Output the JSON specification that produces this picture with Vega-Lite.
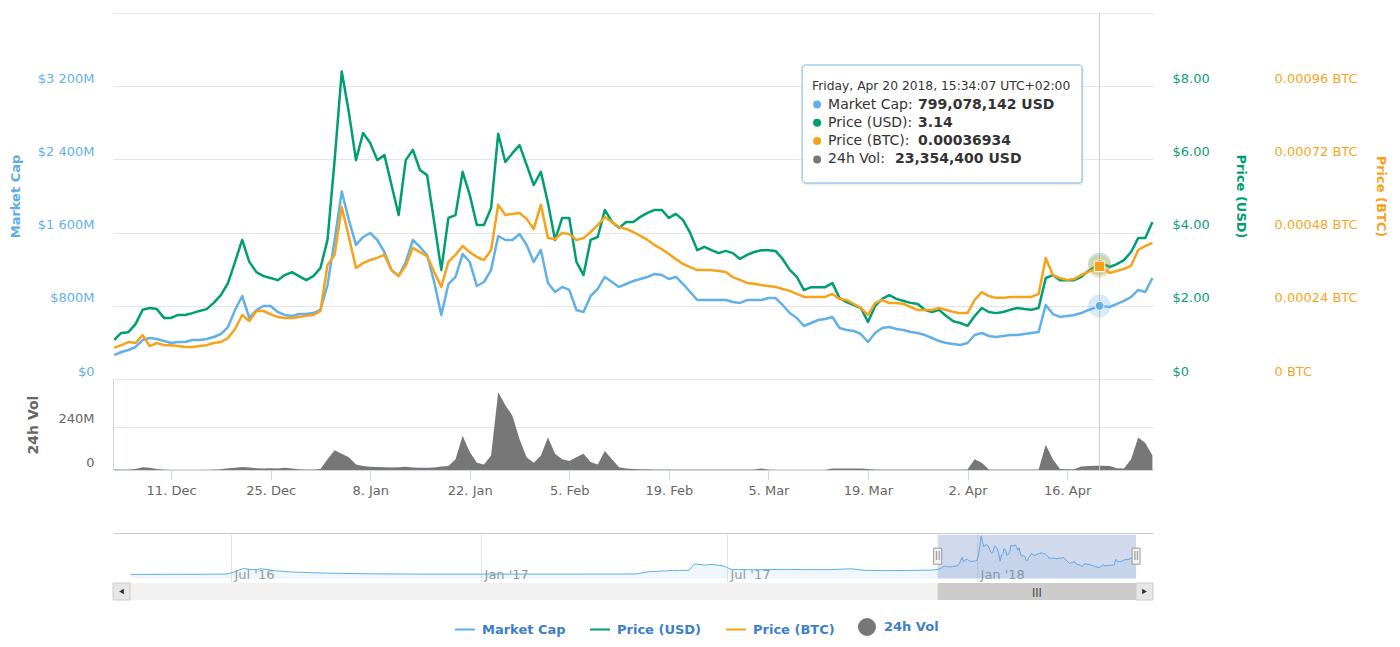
{
"$schema": "https://vega.github.io/schema/vega-lite/v6.json",
"width": 1040,
"height": 587,
"autosize": {"type": "none"},
"padding": {"left": 113, "top": 13, "right": 247, "bottom": 47},
"background": "white",
"config": {
  "font": "DejaVu Sans",
  "view": {"stroke": null},
  "axis": {"labelFont": "DejaVu Sans", "titleFont": "DejaVu Sans"},
  "legend": {"labelFont": "DejaVu Sans"},
  "text": {"font": "DejaVu Sans"}
},
"datasets": {
  "main": [
{"date":"2017-12-03","mc":262,"usd":1.07,"btc":0.000102,"vol":3},
{"date":"2017-12-04","mc":295,"usd":1.26,"btc":0.000111,"vol":3},
{"date":"2017-12-05","mc":317,"usd":1.28,"btc":0.000121,"vol":3},
{"date":"2017-12-06","mc":350,"usd":1.50,"btc":0.000118,"vol":5},
{"date":"2017-12-07","mc":426,"usd":1.89,"btc":0.000144,"vol":15},
{"date":"2017-12-08","mc":448,"usd":1.94,"btc":0.000108,"vol":12},
{"date":"2017-12-09","mc":437,"usd":1.91,"btc":0.000118,"vol":6},
{"date":"2017-12-10","mc":415,"usd":1.67,"btc":0.000111,"vol":3},
{"date":"2017-12-11","mc":393,"usd":1.67,"btc":0.000111,"vol":2},
{"date":"2017-12-12","mc":404,"usd":1.75,"btc":0.000108,"vol":2},
{"date":"2017-12-13","mc":404,"usd":1.75,"btc":0.000105,"vol":2},
{"date":"2017-12-14","mc":426,"usd":1.80,"btc":0.000105,"vol":2},
{"date":"2017-12-15","mc":426,"usd":1.86,"btc":0.000108,"vol":2},
{"date":"2017-12-16","mc":437,"usd":1.91,"btc":0.000111,"vol":2},
{"date":"2017-12-17","mc":459,"usd":2.08,"btc":0.000118,"vol":3},
{"date":"2017-12-18","mc":492,"usd":2.29,"btc":0.000121,"vol":4},
{"date":"2017-12-19","mc":568,"usd":2.62,"btc":0.000134,"vol":10},
{"date":"2017-12-20","mc":754,"usd":3.20,"btc":0.000164,"vol":12},
{"date":"2017-12-21","mc":907,"usd":3.80,"btc":0.000210,"vol":16},
{"date":"2017-12-22","mc":667,"usd":3.20,"btc":0.000190,"vol":14},
{"date":"2017-12-23","mc":754,"usd":2.92,"btc":0.000223,"vol":10},
{"date":"2017-12-24","mc":798,"usd":2.81,"btc":0.000223,"vol":9},
{"date":"2017-12-25","mc":798,"usd":2.76,"btc":0.000213,"vol":10},
{"date":"2017-12-26","mc":732,"usd":2.70,"btc":0.000203,"vol":9},
{"date":"2017-12-27","mc":700,"usd":2.84,"btc":0.000200,"vol":12},
{"date":"2017-12-28","mc":689,"usd":2.92,"btc":0.000200,"vol":8},
{"date":"2017-12-29","mc":710,"usd":2.81,"btc":0.000203,"vol":4},
{"date":"2017-12-30","mc":710,"usd":2.70,"btc":0.000207,"vol":3},
{"date":"2017-12-31","mc":721,"usd":2.81,"btc":0.000210,"vol":3},
{"date":"2018-01-01","mc":754,"usd":3.03,"btc":0.000223,"vol":6},
{"date":"2018-01-02","mc":1027,"usd":3.80,"btc":0.000374,"vol":60},
{"date":"2018-01-03","mc":1519,"usd":5.98,"btc":0.000407,"vol":110},
{"date":"2018-01-04","mc":2050,"usd":8.40,"btc":0.000564,"vol":90},
{"date":"2018-01-05","mc":1738,"usd":7.29,"btc":0.000466,"vol":70},
{"date":"2018-01-06","mc":1465,"usd":5.98,"btc":0.000364,"vol":30},
{"date":"2018-01-07","mc":1552,"usd":6.72,"btc":0.000380,"vol":22},
{"date":"2018-01-08","mc":1596,"usd":6.45,"btc":0.000390,"vol":18},
{"date":"2018-01-09","mc":1519,"usd":5.98,"btc":0.000397,"vol":16},
{"date":"2018-01-10","mc":1388,"usd":6.12,"btc":0.000407,"vol":15},
{"date":"2018-01-11","mc":1191,"usd":5.30,"btc":0.000357,"vol":14},
{"date":"2018-01-12","mc":1126,"usd":4.48,"btc":0.000338,"vol":15},
{"date":"2018-01-13","mc":1279,"usd":5.98,"btc":0.000371,"vol":18},
{"date":"2018-01-14","mc":1519,"usd":6.26,"btc":0.000430,"vol":14},
{"date":"2018-01-15","mc":1443,"usd":5.71,"btc":0.000416,"vol":12},
{"date":"2018-01-16","mc":1355,"usd":5.57,"btc":0.000403,"vol":12},
{"date":"2018-01-17","mc":1060,"usd":4.29,"btc":0.000351,"vol":14},
{"date":"2018-01-18","mc":700,"usd":2.98,"btc":0.000302,"vol":20},
{"date":"2018-01-19","mc":1038,"usd":4.40,"btc":0.000384,"vol":22},
{"date":"2018-01-20","mc":1115,"usd":4.48,"btc":0.000407,"vol":60},
{"date":"2018-01-21","mc":1366,"usd":5.66,"btc":0.000436,"vol":190},
{"date":"2018-01-22","mc":1279,"usd":5.03,"btc":0.000416,"vol":100},
{"date":"2018-01-23","mc":1016,"usd":4.21,"btc":0.000400,"vol":40},
{"date":"2018-01-24","mc":1060,"usd":4.21,"btc":0.000390,"vol":30},
{"date":"2018-01-25","mc":1191,"usd":4.67,"btc":0.000423,"vol":80},
{"date":"2018-01-26","mc":1563,"usd":6.70,"btc":0.000571,"vol":430},
{"date":"2018-01-27","mc":1519,"usd":5.93,"btc":0.000538,"vol":360},
{"date":"2018-01-28","mc":1519,"usd":6.17,"btc":0.000541,"vol":300},
{"date":"2018-01-29","mc":1585,"usd":6.39,"btc":0.000544,"vol":170},
{"date":"2018-01-30","mc":1465,"usd":5.85,"btc":0.000525,"vol":70},
{"date":"2018-01-31","mc":1279,"usd":5.30,"btc":0.000492,"vol":40},
{"date":"2018-02-01","mc":1410,"usd":5.66,"btc":0.000571,"vol":80},
{"date":"2018-02-02","mc":1049,"usd":4.81,"btc":0.000462,"vol":180},
{"date":"2018-02-03","mc":951,"usd":3.80,"btc":0.000459,"vol":90},
{"date":"2018-02-04","mc":1006,"usd":4.40,"btc":0.000479,"vol":60},
{"date":"2018-02-05","mc":973,"usd":4.40,"btc":0.000475,"vol":50},
{"date":"2018-02-06","mc":754,"usd":3.20,"btc":0.000456,"vol":70},
{"date":"2018-02-07","mc":732,"usd":2.84,"btc":0.000462,"vol":90},
{"date":"2018-02-08","mc":907,"usd":3.80,"btc":0.000482,"vol":45},
{"date":"2018-02-09","mc":984,"usd":3.88,"btc":0.000505,"vol":30},
{"date":"2018-02-10","mc":1115,"usd":4.62,"btc":0.000531,"vol":105},
{"date":"2018-02-11","mc":1060,"usd":4.29,"btc":0.000515,"vol":60},
{"date":"2018-02-12","mc":1006,"usd":4.13,"btc":0.000498,"vol":15},
{"date":"2018-02-13","mc":1038,"usd":4.29,"btc":0.000492,"vol":8},
{"date":"2018-02-14","mc":1071,"usd":4.29,"btc":0.000482,"vol":5},
{"date":"2018-02-15","mc":1093,"usd":4.43,"btc":0.000469,"vol":4},
{"date":"2018-02-16","mc":1115,"usd":4.54,"btc":0.000456,"vol":4},
{"date":"2018-02-17","mc":1148,"usd":4.62,"btc":0.000439,"vol":3},
{"date":"2018-02-18","mc":1137,"usd":4.62,"btc":0.000426,"vol":3},
{"date":"2018-02-19","mc":1093,"usd":4.40,"btc":0.000410,"vol":3},
{"date":"2018-02-20","mc":1115,"usd":4.51,"btc":0.000393,"vol":3},
{"date":"2018-02-21","mc":1038,"usd":4.34,"btc":0.000377,"vol":3},
{"date":"2018-02-22","mc":951,"usd":3.99,"btc":0.000367,"vol":3},
{"date":"2018-02-23","mc":863,"usd":3.52,"btc":0.000357,"vol":3},
{"date":"2018-02-24","mc":863,"usd":3.61,"btc":0.000357,"vol":3},
{"date":"2018-02-25","mc":863,"usd":3.52,"btc":0.000357,"vol":3},
{"date":"2018-02-26","mc":863,"usd":3.44,"btc":0.000354,"vol":3},
{"date":"2018-02-27","mc":863,"usd":3.50,"btc":0.000351,"vol":3},
{"date":"2018-02-28","mc":842,"usd":3.44,"btc":0.000334,"vol":3},
{"date":"2018-03-01","mc":831,"usd":3.28,"btc":0.000325,"vol":3},
{"date":"2018-03-02","mc":863,"usd":3.39,"btc":0.000315,"vol":3},
{"date":"2018-03-03","mc":863,"usd":3.47,"btc":0.000312,"vol":3},
{"date":"2018-03-04","mc":863,"usd":3.52,"btc":0.000308,"vol":8},
{"date":"2018-03-05","mc":885,"usd":3.52,"btc":0.000305,"vol":3},
{"date":"2018-03-06","mc":885,"usd":3.50,"btc":0.000302,"vol":2},
{"date":"2018-03-07","mc":809,"usd":3.28,"btc":0.000295,"vol":2},
{"date":"2018-03-08","mc":721,"usd":2.98,"btc":0.000289,"vol":2},
{"date":"2018-03-09","mc":667,"usd":2.79,"btc":0.000279,"vol":2},
{"date":"2018-03-10","mc":579,"usd":2.43,"btc":0.000269,"vol":2},
{"date":"2018-03-11","mc":612,"usd":2.51,"btc":0.000269,"vol":2},
{"date":"2018-03-12","mc":645,"usd":2.51,"btc":0.000269,"vol":2},
{"date":"2018-03-13","mc":656,"usd":2.51,"btc":0.000269,"vol":2},
{"date":"2018-03-14","mc":678,"usd":2.62,"btc":0.000279,"vol":8},
{"date":"2018-03-15","mc":557,"usd":2.21,"btc":0.000262,"vol":8},
{"date":"2018-03-16","mc":536,"usd":2.10,"btc":0.000259,"vol":8},
{"date":"2018-03-17","mc":525,"usd":2.02,"btc":0.000246,"vol":8},
{"date":"2018-03-18","mc":492,"usd":1.94,"btc":0.000233,"vol":8},
{"date":"2018-03-19","mc":404,"usd":1.56,"btc":0.000210,"vol":5},
{"date":"2018-03-20","mc":503,"usd":1.99,"btc":0.000249,"vol":3},
{"date":"2018-03-21","mc":557,"usd":2.19,"btc":0.000259,"vol":3},
{"date":"2018-03-22","mc":568,"usd":2.29,"btc":0.000249,"vol":3},
{"date":"2018-03-23","mc":547,"usd":2.19,"btc":0.000249,"vol":3},
{"date":"2018-03-24","mc":536,"usd":2.13,"btc":0.000246,"vol":3},
{"date":"2018-03-25","mc":514,"usd":2.08,"btc":0.000236,"vol":3},
{"date":"2018-03-26","mc":503,"usd":2.05,"btc":0.000226,"vol":3},
{"date":"2018-03-27","mc":481,"usd":1.89,"btc":0.000226,"vol":3},
{"date":"2018-03-28","mc":448,"usd":1.83,"btc":0.000226,"vol":3},
{"date":"2018-03-29","mc":415,"usd":1.89,"btc":0.000233,"vol":3},
{"date":"2018-03-30","mc":393,"usd":1.72,"btc":0.000226,"vol":3},
{"date":"2018-03-31","mc":383,"usd":1.58,"btc":0.000220,"vol":3},
{"date":"2018-04-01","mc":372,"usd":1.53,"btc":0.000216,"vol":3},
{"date":"2018-04-02","mc":393,"usd":1.45,"btc":0.000216,"vol":3},
{"date":"2018-04-03","mc":481,"usd":1.72,"btc":0.000259,"vol":60},
{"date":"2018-04-04","mc":503,"usd":1.94,"btc":0.000285,"vol":40},
{"date":"2018-04-05","mc":470,"usd":1.83,"btc":0.000272,"vol":3},
{"date":"2018-04-06","mc":459,"usd":1.80,"btc":0.000266,"vol":3},
{"date":"2018-04-07","mc":470,"usd":1.83,"btc":0.000266,"vol":3},
{"date":"2018-04-08","mc":481,"usd":1.89,"btc":0.000269,"vol":3},
{"date":"2018-04-09","mc":481,"usd":1.94,"btc":0.000269,"vol":3},
{"date":"2018-04-10","mc":492,"usd":1.91,"btc":0.000269,"vol":3},
{"date":"2018-04-11","mc":503,"usd":1.89,"btc":0.000269,"vol":3},
{"date":"2018-04-12","mc":514,"usd":1.94,"btc":0.000279,"vol":3},
{"date":"2018-04-13","mc":809,"usd":2.76,"btc":0.000397,"vol":140},
{"date":"2018-04-14","mc":710,"usd":2.84,"btc":0.000341,"vol":60},
{"date":"2018-04-15","mc":678,"usd":2.70,"btc":0.000331,"vol":5},
{"date":"2018-04-16","mc":689,"usd":2.70,"btc":0.000325,"vol":4},
{"date":"2018-04-17","mc":700,"usd":2.70,"btc":0.000328,"vol":4},
{"date":"2018-04-18","mc":721,"usd":2.79,"btc":0.000341,"vol":20},
{"date":"2018-04-19","mc":754,"usd":2.95,"btc":0.000351,"vol":22},
{"date":"2018-04-20","mc":780,"usd":3.07,"btc":0.000360,"vol":23},
{"date":"2018-04-20T13:34:07Z","mc":799.078142,"usd":3.14,"btc":0.00036934,"vol":23.3544},
{"date":"2018-04-21","mc":795,"usd":3.15,"btc":0.000364,"vol":23},
{"date":"2018-04-22","mc":787,"usd":3.06,"btc":0.000348,"vol":22},
{"date":"2018-04-23","mc":820,"usd":3.14,"btc":0.000354,"vol":10},
{"date":"2018-04-24","mc":853,"usd":3.25,"btc":0.000361,"vol":8},
{"date":"2018-04-25","mc":896,"usd":3.47,"btc":0.000371,"vol":60},
{"date":"2018-04-26","mc":973,"usd":3.85,"btc":0.000423,"vol":180},
{"date":"2018-04-27","mc":951,"usd":3.85,"btc":0.000436,"vol":150},
{"date":"2018-04-28","mc":1104,"usd":4.29,"btc":0.000446,"vol":80}
  ],
  "hover": [{"date":"2018-04-20T13:34:07Z","mc":799.078142,"usd":3.14,"btc":0.00036934,"vol":23.3544}],
  "navold": [
{"date":"2016-04-18","mc":3},{"date":"2016-05-01","mc":5},{"date":"2016-05-20","mc":8},{"date":"2016-06-10","mc":10},
{"date":"2016-06-28","mc":25},{"date":"2016-07-04","mc":150},{"date":"2016-07-10","mc":320},{"date":"2016-07-17","mc":250},
{"date":"2016-07-24","mc":300},{"date":"2016-08-02","mc":200},{"date":"2016-08-15","mc":130},{"date":"2016-09-10","mc":70},
{"date":"2016-10-10","mc":35},{"date":"2016-11-15","mc":20},{"date":"2017-01-01","mc":18},{"date":"2017-02-15","mc":20},
{"date":"2017-03-20","mc":22},{"date":"2017-04-25","mc":25},{"date":"2017-05-05","mc":150},{"date":"2017-05-22","mc":210},
{"date":"2017-06-03","mc":220},{"date":"2017-06-07","mc":560},{"date":"2017-06-14","mc":500},{"date":"2017-06-21","mc":530},
{"date":"2017-06-29","mc":440},{"date":"2017-07-04","mc":270},{"date":"2017-07-20","mc":250},{"date":"2017-08-10","mc":270},
{"date":"2017-08-25","mc":260},{"date":"2017-09-14","mc":255},{"date":"2017-10-01","mc":300},{"date":"2017-10-10","mc":220},
{"date":"2017-10-25","mc":205},{"date":"2017-11-10","mc":210},{"date":"2017-11-28","mc":230},{"date":"2017-12-03","mc":262}
  ],
  "tip": [
    {"series":"Market Cap","label":"Market Cap:","value":"799,078,142 USD"},
    {"series":"Price (USD)","label":"Price (USD):","value":"3.14"},
    {"series":"Price (BTC)","label":"Price (BTC):","value":"0.00036934"},
    {"series":"24h Vol","label":"24h Vol:","value":"23,354,400 USD"}
  ],
  "one": [{}]
},
"layer": [
  {
    "data": {"name": "main"},
    "mark": {"type": "area", "interpolate": "linear"},
    "encoding": {
      "x": {"field": "date", "type": "temporal",
        "scale": {"type": "utc", "domain": [{"year":2017,"month":12,"date":2,"hours":20,"utc":true},{"year":2018,"month":4,"date":28,"hours":2,"utc":true}]},
        "axis": {"orient": "bottom", "offset": -130, "title": null,
          "values": [{"year":2017,"month":12,"date":11,"utc":true},{"year":2017,"month":12,"date":25,"utc":true},{"year":2018,"month":1,"date":8,"utc":true},{"year":2018,"month":1,"date":22,"utc":true},{"year":2018,"month":2,"date":5,"utc":true},{"year":2018,"month":2,"date":19,"utc":true},{"year":2018,"month":3,"date":5,"utc":true},{"year":2018,"month":3,"date":19,"utc":true},{"year":2018,"month":4,"date":2,"utc":true},{"year":2018,"month":4,"date":16,"utc":true}],
          "labelExpr": "utcFormat(datum.value, '%-d. %b')", "grid": false,
          "domain": true, "domainColor": "#ccd6eb", "ticks": true, "tickColor": "#ccd6eb", "tickSize": 10,
          "labelColor": "#666666", "labelFontSize": 13, "labelPadding": 4, "labelFlush": false, "labelOverlap": false}},
      "y": {"field": "vol", "type": "quantitative", "scale": {"domain": [0, 504], "range": [457, 366]},
        "axis": {"orient": "left", "values": [0, 240], "labelExpr": "datum.value == 0 ? '0' : datum.value + 'M'",
          "grid": true, "gridColor": "#e6e6e6", "domain": true, "domainColor": "#ccd6eb", "ticks": false,
          "labelPadding": 19, "labelOffset": -8, "labelColor": "#666666", "labelFontSize": 13,
          "title": "24h Vol", "titleColor": "#666666", "titleFontWeight": "bold", "titleFontSize": 14,
          "titleX": -80, "titleBaseline": "middle", "titleAngle": -90}},
      "color": {"datum": "24h Vol", "type": "nominal",
        "scale": {"domain": ["Market Cap","Price (USD)","Price (BTC)","24h Vol"], "range": ["#62b0e8","#009e73","#f7a21b","#777777"]},
        "legend": {"orient": "none", "legendX": 341, "legendY": 603, "direction": "horizontal", "title": null,
          "labelFontSize": 13, "labelFontWeight": "bold", "labelColor": "#3d7fc9",
          "symbolType": "stroke", "symbolSize": 400, "symbolStrokeWidth": 2, "columnPadding": 20, "labelOffset": 6, "padding": 0,
          "encode": {"symbols": {"update": {
            "shape": {"signal": "datum.value === '24h Vol' ? 'circle' : 'stroke'"},
            "size": {"signal": "datum.value === '24h Vol' ? 256 : 400"},
            "fill": {"signal": "datum.value === '24h Vol' ? '#777777' : 'transparent'"},
            "stroke": {"signal": "datum.value === '24h Vol' ? 'transparent' : scale('color', datum.value)"},
            "strokeWidth": {"value": 2},
            "opacity": {"value": 1}}}}}}
    }
  },
  {
    "data": {"name": "hover"},
    "mark": {"type": "rule", "color": "#cccccc", "strokeWidth": 1},
    "encoding": {
      "x": {"field": "date", "type": "temporal", "scale": {"type": "utc", "domain": [{"year":2017,"month":12,"date":2,"hours":20,"utc":true},{"year":2018,"month":4,"date":28,"hours":2,"utc":true}]}, "axis": null},
      "y": {"datum": 0, "type": "quantitative", "scale": {"domain": [0, 1], "range": [457, 0]}, "axis": null},
      "y2": {"datum": 1}
    }
  },
  {
    "layer": [
      {"data": {"name": "main"}, "mark": {"type": "line", "strokeWidth": 2.5, "strokeJoin": "round"},
       "encoding": {
        "x": {"field": "date", "type": "temporal", "scale": {"type": "utc", "domain": [{"year":2017,"month":12,"date":2,"hours":20,"utc":true},{"year":2018,"month":4,"date":28,"hours":2,"utc":true}]}, "axis": null},
        "y": {"field": "mc", "type": "quantitative", "scale": {"domain": [0, 4000], "range": [366, 0]},
          "axis": {"orient": "left", "values": [0, 800, 1600, 2400, 3200, 4000],
            "labelExpr": "datum.value == 4000 ? '' : datum.value == 0 ? '$0' : '$' + replace(format(datum.value, ','), ',', ' ') + 'M'",
            "grid": true, "gridColor": "#e6e6e6", "domain": false, "ticks": false,
            "labelPadding": 19, "labelOffset": -8, "labelColor": "#66afe9", "labelFontSize": 13,
            "title": "Market Cap", "titleColor": "#5dade2", "titleFontWeight": "bold", "titleFontSize": 13,
            "titleX": -98, "titleBaseline": "middle", "titleAngle": -90}},
        "color": {"datum": "Market Cap", "type": "nominal"}}},
      {"data": {"name": "hover"}, "mark": {"type": "point", "filled": true, "size": 520, "color": "#62b0e8", "opacity": 0.25},
       "encoding": {"x": {"field": "date", "type": "temporal", "axis": null}, "y": {"field": "mc", "type": "quantitative"}}},
      {"data": {"name": "hover"}, "mark": {"type": "point", "filled": true, "size": 80, "color": "#62b0e8", "opacity": 1, "stroke": "white", "strokeWidth": 1},
       "encoding": {"x": {"field": "date", "type": "temporal", "axis": null}, "y": {"field": "mc", "type": "quantitative"}}}
    ]
  },
  {
    "layer": [
      {"data": {"name": "main"}, "mark": {"type": "line", "strokeWidth": 2.5, "strokeJoin": "round"},
       "encoding": {
        "x": {"field": "date", "type": "temporal", "scale": {"type": "utc", "domain": [{"year":2017,"month":12,"date":2,"hours":20,"utc":true},{"year":2018,"month":4,"date":28,"hours":2,"utc":true}]}, "axis": null},
        "y": {"field": "usd", "type": "quantitative", "scale": {"domain": [0, 10], "range": [366, 0]},
          "axis": {"orient": "right", "values": [0, 2, 4, 6, 8],
            "labelExpr": "datum.value == 0 ? '$0' : '$' + format(datum.value, '.2f')",
            "grid": false, "domain": false, "ticks": false,
            "labelPadding": 19, "labelOffset": -8, "labelColor": "#0e9e77", "labelFontSize": 13,
            "title": "Price (USD)", "titleColor": "#009e73", "titleFontWeight": "bold", "titleFontSize": 13,
            "titleX": 87, "titleBaseline": "middle", "titleAngle": 90}},
        "color": {"datum": "Price (USD)", "type": "nominal"}}},
      {"data": {"name": "hover"}, "mark": {"type": "point", "filled": true, "size": 520, "color": "#009e73", "opacity": 0.25},
       "encoding": {"x": {"field": "date", "type": "temporal", "axis": null}, "y": {"field": "usd", "type": "quantitative"}}},
      {"data": {"name": "hover"}, "mark": {"type": "point", "filled": true, "size": 80, "color": "#009e73", "opacity": 1, "stroke": "white", "strokeWidth": 1},
       "encoding": {"x": {"field": "date", "type": "temporal", "axis": null}, "y": {"field": "usd", "type": "quantitative"}}}
    ]
  },
  {
    "layer": [
      {"data": {"name": "main"}, "mark": {"type": "line", "strokeWidth": 2.5, "strokeJoin": "round"},
       "encoding": {
        "x": {"field": "date", "type": "temporal", "scale": {"type": "utc", "domain": [{"year":2017,"month":12,"date":2,"hours":20,"utc":true},{"year":2018,"month":4,"date":28,"hours":2,"utc":true}]}, "axis": null},
        "y": {"field": "btc", "type": "quantitative", "scale": {"domain": [0, 0.0012], "range": [366, 0]},
          "axis": {"orient": "right", "offset": 102, "values": [0, 0.00024, 0.00048, 0.00072, 0.00096],
            "labelExpr": "datum.value == 0 ? '0 BTC' : format(datum.value, '.5f') + ' BTC'",
            "grid": false, "domain": false, "ticks": false,
            "labelPadding": 19, "labelOffset": -8, "labelColor": "#f8a623", "labelFontSize": 13,
            "title": "Price (BTC)", "titleColor": "#f7a21b", "titleFontWeight": "bold", "titleFontSize": 13,
            "titleX": 125, "titleBaseline": "middle", "titleAngle": 90}},
        "color": {"datum": "Price (BTC)", "type": "nominal"}}},
      {"data": {"name": "hover"}, "mark": {"type": "point", "filled": true, "size": 520, "color": "#f7a21b", "opacity": 0.25},
       "encoding": {"x": {"field": "date", "type": "temporal", "axis": null}, "y": {"field": "btc", "type": "quantitative"}}},
      {"data": {"name": "hover"}, "mark": {"type": "point", "shape": "square", "filled": true, "size": 110, "color": "#f7a21b", "opacity": 1, "stroke": "white", "strokeWidth": 1},
       "encoding": {"x": {"field": "date", "type": "temporal", "axis": null}, "y": {"field": "btc", "type": "quantitative"}}}
    ]
  },
  {
    "layer": [
      {
        "layer": [
          {"data": {"name": "navold"}, "mark": {"type": "area", "color": "#62b0e8", "opacity": 0.1},
           "encoding": {
            "x": {"field": "date", "type": "temporal",
              "scale": {"type": "utc", "domain": [{"year":2016,"month":4,"date":5,"hours":4,"utc":true},{"year":2018,"month":5,"date":10,"hours":11,"utc":true}]},
              "axis": {"orient": "bottom", "offset": -67, "title": null,
                "values": [{"year":2016,"month":7,"date":1,"utc":true},{"year":2017,"month":1,"date":1,"utc":true},{"year":2017,"month":7,"date":1,"utc":true},{"year":2018,"month":1,"date":1,"utc":true}],
                "labelExpr": "utcFormat(datum.value, \"%b '%y\")", "grid": false,
                "domain": true, "domainColor": "#cccccc", "ticks": true, "tickSize": 49, "tickColor": "#e6e6e6",
                "labelAlign": "left", "labelBaseline": "middle", "labelPadding": -8, "labelOffset": 3,
                "labelColor": "#999999", "labelFontSize": 13, "labelFlush": false, "labelOverlap": false}},
            "y": {"field": "mc", "type": "quantitative", "scale": {"domain": [-213, 2105], "range": [569, 520]}, "axis": null},
            "y2": {"datum": -213}}},
          {"data": {"name": "main"}, "mark": {"type": "area", "color": "#62b0e8", "opacity": 0.1},
           "encoding": {"x": {"field": "date", "type": "temporal"}, "y": {"field": "mc", "type": "quantitative", "axis": null}, "y2": {"datum": -213}}},
          {"data": {"name": "navold"}, "mark": {"type": "line", "color": "#62b0e8", "strokeWidth": 1},
           "encoding": {"x": {"field": "date", "type": "temporal"}, "y": {"field": "mc", "type": "quantitative", "axis": null}}},
          {"data": {"name": "main"}, "mark": {"type": "line", "color": "#62b0e8", "strokeWidth": 1},
           "encoding": {"x": {"field": "date", "type": "temporal"}, "y": {"field": "mc", "type": "quantitative", "axis": null}}},
          {"data": {"name": "one"}, "mark": {"type": "rect", "color": "#6685c2", "opacity": 0.3},
           "encoding": {"x": {"datum": {"year":2017,"month":12,"date":3,"utc":true}, "type": "temporal"},
             "x2": {"datum": {"year":2018,"month":4,"date":28,"utc":true}},
             "y": {"datum": 2105, "type": "quantitative", "axis": null}, "y2": {"datum": -213}}},
          {"data": {"name": "one"}, "mark": {"type": "rect", "fill": "#f2f2f2", "stroke": "#999999", "strokeWidth": 1},
           "encoding": {"x": {"datum": {"year":2017,"month":11,"date":30,"hours":1,"utc":true}, "type": "temporal"},
             "x2": {"datum": {"year":2017,"month":12,"date":5,"hours":23,"utc":true}},
             "y": {"datum": 1395, "type": "quantitative", "axis": null}, "y2": {"datum": 544}}},
          {"data": {"name": "one"}, "mark": {"type": "rect", "fill": "#f2f2f2", "stroke": "#999999", "strokeWidth": 1},
           "encoding": {"x": {"datum": {"year":2018,"month":4,"date":25,"hours":1,"utc":true}, "type": "temporal"},
             "x2": {"datum": {"year":2018,"month":4,"date":30,"hours":23,"utc":true}},
             "y": {"datum": 1395, "type": "quantitative", "axis": null}, "y2": {"datum": 544}}},
          {"data": {"name": "one"}, "mark": {"type": "text", "text": "||", "fontSize": 8, "color": "#666666"},
           "encoding": {"x": {"datum": {"year":2017,"month":12,"date":3,"utc":true}, "type": "temporal"},
             "y": {"datum": 970, "type": "quantitative", "axis": null}}},
          {"data": {"name": "one"}, "mark": {"type": "text", "text": "||", "fontSize": 8, "color": "#666666"},
           "encoding": {"x": {"datum": {"year":2018,"month":4,"date":28,"utc":true}, "type": "temporal"},
             "y": {"datum": 970, "type": "quantitative", "axis": null}}}
        ]
      },
      {
        "layer": [
          {"data": {"name": "one"}, "mark": {"type": "rect", "fill": "#f2f2f2"},
           "encoding": {"x": {"datum": {"year":2016,"month":4,"date":5,"hours":4,"utc":true}, "type": "temporal"},
             "x2": {"datum": {"year":2018,"month":5,"date":10,"hours":11,"utc":true}},
             "y": {"datum": 0, "type": "quantitative", "scale": {"domain": [0, 1], "range": [587, 570]}, "axis": null},
             "y2": {"datum": 1}}},
          {"data": {"name": "one"}, "mark": {"type": "rect", "fill": "#cccccc"},
           "encoding": {"x": {"datum": {"year":2017,"month":12,"date":3,"utc":true}, "type": "temporal"},
             "x2": {"datum": {"year":2018,"month":4,"date":28,"utc":true}},
             "y": {"datum": 0, "type": "quantitative", "axis": null}, "y2": {"datum": 1}}},
          {"data": {"name": "one"}, "mark": {"type": "rect", "fill": "#e6e6e6", "stroke": "#cccccc", "strokeWidth": 1},
           "encoding": {"x": {"datum": {"year":2016,"month":4,"date":5,"hours":4,"utc":true}, "type": "temporal"},
             "x2": {"datum": {"year":2016,"month":4,"date":17,"hours":16,"utc":true}},
             "y": {"datum": 0, "type": "quantitative", "axis": null}, "y2": {"datum": 1}}},
          {"data": {"name": "one"}, "mark": {"type": "rect", "fill": "#e6e6e6", "stroke": "#cccccc", "strokeWidth": 1},
           "encoding": {"x": {"datum": {"year":2018,"month":4,"date":27,"hours":23,"utc":true}, "type": "temporal"},
             "x2": {"datum": {"year":2018,"month":5,"date":10,"hours":11,"utc":true}},
             "y": {"datum": 0, "type": "quantitative", "axis": null}, "y2": {"datum": 1}}},
          {"data": {"name": "one"}, "mark": {"type": "point", "shape": "triangle-left", "filled": true, "size": 30, "color": "#333333", "opacity": 1},
           "encoding": {"x": {"datum": {"year":2016,"month":4,"date":11,"hours":10,"utc":true}, "type": "temporal"},
             "y": {"datum": 0.5, "type": "quantitative", "axis": null}}},
          {"data": {"name": "one"}, "mark": {"type": "point", "shape": "triangle-right", "filled": true, "size": 30, "color": "#333333", "opacity": 1},
           "encoding": {"x": {"datum": {"year":2018,"month":5,"date":4,"hours":5,"utc":true}, "type": "temporal"},
             "y": {"datum": 0.5, "type": "quantitative", "axis": null}}},
          {"data": {"name": "one"}, "mark": {"type": "text", "text": "|||", "fontSize": 9, "fontWeight": "bold", "color": "#333333"},
           "encoding": {"x": {"datum": {"year":2018,"month":2,"date":14,"utc":true}, "type": "temporal"},
             "y": {"datum": 0.5, "type": "quantitative", "axis": null}}}
        ]
      }
    ],
    "resolve": {"scale": {"y": "independent"}}
  },
  {
    "layer": [
      {
        "layer": [
          {"data": {"name": "one"}, "mark": {"type": "rect", "fill": "#000000", "opacity": 0.07, "cornerRadius": 3},
           "encoding": {
            "x": {"datum": {"year":2018,"month":3,"date":9,"hours":22,"utc":true}, "type": "temporal",
              "scale": {"type": "utc", "domain": [{"year":2017,"month":12,"date":2,"hours":20,"utc":true},{"year":2018,"month":4,"date":28,"hours":2,"utc":true}]}, "axis": null},
            "x2": {"datum": {"year":2018,"month":4,"date":18,"hours":8,"utc":true}},
            "y": {"datum": 3410, "type": "quantitative", "scale": {"domain": [0, 4000], "range": [366, 0]}, "axis": null},
            "y2": {"datum": 2115}}},
          {"data": {"name": "one"}, "mark": {"type": "rect", "fill": "#ffffff", "fillOpacity": 0.96, "stroke": "#7cb5ec", "strokeWidth": 1, "cornerRadius": 3},
           "encoding": {
            "x": {"datum": {"year":2018,"month":3,"date":9,"hours":17,"minutes":45,"utc":true}, "type": "temporal", "axis": null},
            "x2": {"datum": {"year":2018,"month":4,"date":18,"hours":2,"minutes":30,"utc":true}},
            "y": {"datum": 3432, "type": "quantitative", "axis": null},
            "y2": {"datum": 2142}}},
          {"data": {"name": "one"}, "mark": {"type": "text", "text": "Friday, Apr 20 2018, 15:34:07 UTC+02:00", "align": "left", "baseline": "middle", "fontSize": 12.3, "color": "#333333"},
           "encoding": {
            "x": {"datum": {"year":2018,"month":3,"date":11,"hours":3,"minutes":21,"utc":true}, "type": "temporal", "axis": null},
            "y": {"datum": 3202, "type": "quantitative", "axis": null}}}
        ]
      },
      {
        "layer": [
          {"data": {"name": "tip"}, "mark": {"type": "point", "filled": true, "size": 64, "opacity": 1},
           "encoding": {
            "x": {"datum": {"year":2018,"month":3,"date":11,"hours":20,"minutes":24,"utc":true}, "type": "temporal",
              "scale": {"type": "utc", "domain": [{"year":2017,"month":12,"date":2,"hours":20,"utc":true},{"year":2018,"month":4,"date":28,"hours":2,"utc":true}]}, "axis": null},
            "y": {"field": "series", "type": "nominal", "scale": {"type": "point", "domain": ["Market Cap","Price (USD)","Price (BTC)","24h Vol"], "range": [91.5, 146.4], "padding": 0}, "axis": null},
            "fill": {"field": "series", "type": "nominal", "scale": {"domain": ["Market Cap","Price (USD)","Price (BTC)","24h Vol"], "range": ["#62b0e8","#009e73","#f7a21b","#777777"]}, "legend": null}}},
          {"data": {"name": "tip"}, "mark": {"type": "text", "align": "left", "baseline": "middle", "fontSize": 14, "color": "#333333"},
           "encoding": {
            "x": {"datum": {"year":2018,"month":3,"date":13,"hours":9,"minutes":24,"utc":true}, "type": "temporal", "axis": null},
            "y": {"field": "series", "type": "nominal", "axis": null},
            "text": {"field": "label"}}},
          {"data": {"name": "tip"}, "transform": [{"filter": "datum.series != '24h Vol'"}],
           "mark": {"type": "text", "align": "left", "baseline": "middle", "fontSize": 14, "fontWeight": "bold", "color": "#333333"},
           "encoding": {
            "x": {"datum": {"year":2018,"month":3,"date":26,"hours":1,"minutes":12,"utc":true}, "type": "temporal", "axis": null},
            "y": {"field": "series", "type": "nominal", "axis": null},
            "text": {"field": "value"}}},
          {"data": {"name": "tip"}, "transform": [{"filter": "datum.series == '24h Vol'"}],
           "mark": {"type": "text", "align": "left", "baseline": "middle", "fontSize": 14, "fontWeight": "bold", "color": "#333333"},
           "encoding": {
            "x": {"datum": {"year":2018,"month":3,"date":22,"hours":19,"minutes":12,"utc":true}, "type": "temporal", "axis": null},
            "y": {"field": "series", "type": "nominal", "axis": null},
            "text": {"field": "value"}}}
        ]
      }
    ],
    "resolve": {"scale": {"y": "independent"}}
  }
],
"resolve": {"scale": {"x": "independent", "y": "independent"}}
}
